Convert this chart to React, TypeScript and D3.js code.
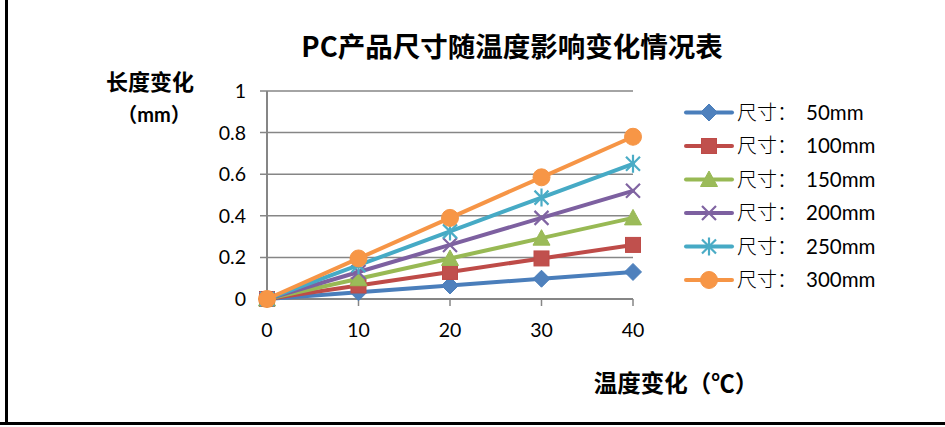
import * as d3 from "d3";

const temps = [0, 10, 20, 30, 40];
const seriesLabels = ["50mm", "100mm", "150mm", "200mm", "250mm", "300mm"];
const size50 = [0, 0.0325, 0.065, 0.0975, 0.13];
const size100 = [0, 0.065, 0.13, 0.195, 0.26];
const size150 = [0, 0.0975, 0.195, 0.2925, 0.39];
const size200 = [0, 0.13, 0.26, 0.39, 0.52];
const size250 = [0, 0.1625, 0.325, 0.4875, 0.65];
const size300 = [0, 0.195, 0.39, 0.585, 0.78];
const yTicks = [0, 0.2, 0.4, 0.6, 0.8, 1];

const seriesValues = [size50, size100, size150, size200, size250, size300];
const lineColors = ["#4A7EBB", "#BE4B48", "#98B954", "#7D60A0", "#46AAC5", "#F69546"];
const fillColors = ["#4F81BD", "#C0504D", "#9BBB59", "#8064A2", "#4BACC6", "#F79646"];
const markers = ["diamond", "square", "triangle", "x", "star", "circle"];

const cjk = "'Noto Sans CJK SC', sans-serif";
const latin = "Lato, 'Noto Sans CJK SC', sans-serif";
const axisGrey = "#868686";

function Marker({ kind, cx, cy, fill, stroke }: { kind: string; cx: number; cy: number; fill: string; stroke: string }) {
  const t = `translate(${cx},${cy})`;
  if (kind === "diamond") {
    return <path transform={t} d="M0,-8.5L8.5,0L0,8.5L-8.5,0Z" fill={fill} stroke={stroke} strokeWidth="1" />;
  }
  if (kind === "square") {
    return <rect transform={t} x={-7.5} y={-7.5} width={15} height={15} fill={fill} stroke={stroke} strokeWidth="1" />;
  }
  if (kind === "triangle") {
    return <path transform={t} d="M0,-8.5L8.5,7L-8.5,7Z" fill={fill} stroke={stroke} strokeWidth="1" />;
  }
  if (kind === "x") {
    return <path transform={t} d="M-7,-7L7,7M-7,7L7,-7" fill="none" stroke={fill} strokeWidth="2.2" />;
  }
  if (kind === "star") {
    return <path transform={t} d="M-7,-7L7,7M-7,7L7,-7M0,-9L0,9" fill="none" stroke={fill} strokeWidth="2.2" />;
  }
  return <circle transform={t} r={8.5} fill={fill} stroke={stroke} strokeWidth="1" />;
}

export default function App() {
  const width = 945;
  const height = 427;

  const x = d3.scaleLinear().domain([0, 40]).range([267, 633]);
  const y = d3.scaleLinear().domain([0, 1]).range([299, 91]);

  const lineGen = d3
    .line<number>()
    .x((_, i) => x(temps[i]))
    .y((v) => y(v));

  const legendY = d3.scaleLinear().domain([0, 5]).range([112.5, 280]);

  return (
    <svg
      width={width}
      height={height}
      viewBox={`0 0 ${width} ${height}`}
      style={{ position: "absolute", left: 0, top: 0, background: "#fff" }}
    >
      <rect x={0} y={0} width={width} height={height} fill="#fff" />
      {/* outer frame: left and bottom edges */}
      <line x1={6.5} x2={6.5} y1={0} y2={423} stroke="#000" strokeWidth="3" />
      <line x1={0} x2={width} y1={423.5} y2={423.5} stroke="#000" strokeWidth="3" />

      <text x={512} y={57} textAnchor="middle" fontFamily={cjk} fontWeight="bold" fontSize="27.5" fill="#000">
        PC产品尺寸随温度影响变化情况表
      </text>

      <text x={150} y={90} textAnchor="middle" fontFamily={cjk} fontWeight="bold" fontSize="22" fill="#000">
        长度变化
      </text>
      <text x={154} y={122} textAnchor="middle" fontFamily={latin} fontWeight="bold" fontSize="20" fill="#000">
        （mm）
      </text>

      <text x={676} y={392} textAnchor="middle" fontFamily={cjk} fontWeight="bold" fontSize="23.5" fill="#000">
        温度变化（℃）
      </text>

      {yTicks.map((t) => (
        <g key={t}>
          <line x1={260} x2={633} y1={y(t)} y2={y(t)} stroke={axisGrey} strokeWidth="1.5" />
          <text x={246} y={y(t) + 7} textAnchor="end" fontFamily={latin} fontSize="19.5" fill="#000">
            {t}
          </text>
        </g>
      ))}
      <line x1={x(0)} x2={x(0)} y1={y(1)} y2={y(0)} stroke={axisGrey} strokeWidth="2" />
      <line x1={x(0)} x2={x(40)} y1={y(0)} y2={y(0)} stroke={axisGrey} strokeWidth="2" />
      {temps.map((t) => (
        <g key={t}>
          <line x1={x(t)} x2={x(t)} y1={y(0)} y2={y(0) + 7} stroke={axisGrey} strokeWidth="1.5" />
          <text x={x(t)} y={337} textAnchor="middle" fontFamily={latin} fontSize="19.5" fill="#000">
            {t}
          </text>
        </g>
      ))}

      {seriesValues.map((vals, s) => (
        <g key={seriesLabels[s]}>
          <path
            d={lineGen(vals) ?? ""}
            fill="none"
            stroke={lineColors[s]}
            strokeWidth="4"
            strokeLinecap="round"
            strokeLinejoin="round"
          />
          {vals.map((v, i) => (
            <Marker key={i} kind={markers[s]} cx={x(temps[i])} cy={y(v)} fill={fillColors[s]} stroke={lineColors[s]} />
          ))}
        </g>
      ))}

      {seriesLabels.map((label, s) => {
        const ly = legendY(s);
        return (
          <g key={label}>
            <line x1={686} x2={732} y1={ly} y2={ly} stroke={lineColors[s]} strokeWidth="4" strokeLinecap="round" />
            <Marker kind={markers[s]} cx={709} cy={ly} fill={fillColors[s]} stroke={lineColors[s]} />
            <text x={737} y={ly + 7} fontFamily={cjk} fontWeight="300" fontSize="20" fill="#000">
              尺寸：
            </text>
            <text x={806} y={ly + 7} fontFamily={latin} fontSize="20.5" fill="#000">
              {label}
            </text>
          </g>
        );
      })}
    </svg>
  );
}
